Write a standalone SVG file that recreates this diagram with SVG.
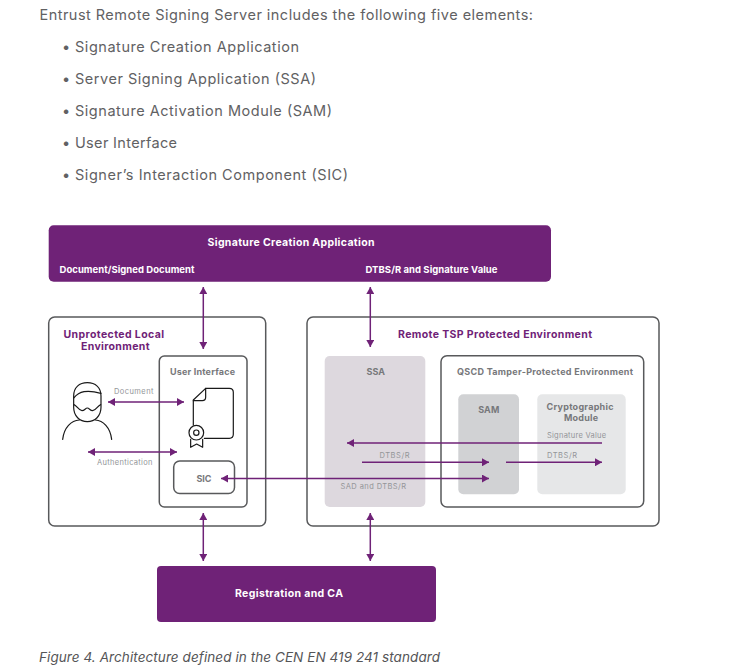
<svg xmlns="http://www.w3.org/2000/svg" width="732" height="669" viewBox="0 0 732 669">
<style>
text{font-family:"Inter","Liberation Sans",sans-serif}
.body{font-size:14.5px;fill:#616163}
.cap{font-size:13.5px;font-style:italic;fill:#555557}
.w{font-size:9.5px;font-weight:700;fill:#fff}
.p{font-size:10.5px;font-weight:700;fill:#6f2277}
.g{font-size:9px;font-weight:700;fill:#77787b}
.s{font-size:7.5px;fill:#939598}
.box{fill:#fff;stroke:#58595b;stroke-width:1.5}
.bar{fill:#6f2277}
.c{fill:none;stroke:#6f2277;stroke-width:1.5;marker-end:url(#a)}
.d{marker-start:url(#b)}
.i{fill:none;stroke:#1a1a1a;stroke-width:3.6;stroke-linejoin:round;stroke-linecap:round}
</style>
<defs>
<marker id="a" markerUnits="userSpaceOnUse" markerWidth="7" markerHeight="8" refX="7" refY="4" orient="auto"><path d="M0 0L7 4L0 8Z" fill="#6f2277"/></marker>
<marker id="b" markerUnits="userSpaceOnUse" markerWidth="7" markerHeight="8" refX="0" refY="4" orient="auto"><path d="M7 0L0 4L7 8Z" fill="#6f2277"/></marker>
</defs>
<rect width="732" height="669" fill="#fff"/>
<g id="intro">
<text class="body" x="39.500" y="20" textLength="493.500">Entrust Remote Signing Server includes the following five elements:</text>
<text class="body" x="62" y="52">•</text><text class="body" x="75" y="52" textLength="224">Signature Creation Application</text>
<text class="body" x="62" y="84">•</text><text class="body" x="75" y="84" textLength="241">Server Signing Application (SSA)</text>
<text class="body" x="62" y="116">•</text><text class="body" x="75" y="116" textLength="257">Signature Activation Module (SAM)</text>
<text class="body" x="62" y="148">•</text><text class="body" x="75" y="148" textLength="102">User Interface</text>
<text class="body" x="62" y="180">•</text><text class="body" x="75" y="180" textLength="273">Signer’s Interaction Component (SIC)</text>
</g>
<g id="sca">
<rect class="bar" x="48.700" y="225.300" width="502.300" height="56.400" rx="5"/>
<text class="w" x="207.500" y="246" style="font-size:10.500px" textLength="167">Signature Creation Application</text>
<text class="w" x="59.500" y="273" textLength="135">Document/Signed Document</text>
<text class="w" x="365.500" y="273" textLength="132">DTBS/R and Signature Value</text>
</g>
<g id="local-env">
<rect class="box" x="48.700" y="317" width="217" height="209" rx="6"/>
<text class="p" x="63.500" y="338" textLength="100.500">Unprotected Local</text>
<text class="p" x="81" y="350" textLength="68.500">Environment</text>
</g>
<g id="ui">
<rect class="box" x="159.300" y="356" width="87.700" height="151" rx="5"/>
<text class="g" x="170" y="375" textLength="65">User Interface</text>
</g>
<g id="sic">
<rect class="box" x="173.700" y="461" width="60.800" height="32.500" rx="6"/>
<text class="g" x="196.500" y="481.500" textLength="15">SIC</text>
</g>
<g id="signer" transform="translate(40 310) scale(.3333)">
<path class="i" d="M101 258C101 232 118 218 142 218C166 218 183 232 183 258V292C183 318 165 335 142 335C119 335 101 318 101 292Z"/>
<path class="i" d="M101 264C118 244 140 238 183 250"/>
<path class="i" d="M102 284C112 288 116 302 126 302C134 302 136 294 142 294C148 294 150 302 158 302C168 302 172 288 182 284"/>
<path class="i" d="M68 388C72 352 94 331 118 330M215 388C211 352 189 331 166 330"/>
</g>
<g id="document-icon" transform="translate(40 310) scale(.3333)">
<path class="i" d="M460 345V270L497 235H568Q580 235 580 247V373Q580 385 568 385H493"/>
<path class="i" d="M460 272H487Q497 272 497 262V235"/>
<circle class="i" cx="469" cy="368" r="22"/>
<circle class="i" cx="469" cy="368" r="8"/>
<path class="i" d="M452 388V412L470 402L488 412V388"/>
</g>
<g id="remote-env">
<rect class="box" x="307" y="317" width="352" height="209" rx="6"/>
<text class="p" x="398" y="338" textLength="194">Remote TSP Protected Environment</text>
</g>
<g id="ssa">
<rect x="324.700" y="356" width="100.600" height="151" rx="5" fill="#ddd8de"/>
<text class="g" x="366.500" y="375" textLength="18.500">SSA</text>
</g>
<g id="qscd">
<rect class="box" x="441" y="355.700" width="202.700" height="151.300" rx="6"/>
<text class="g" x="457" y="375" textLength="176">QSCD Tamper-Protected Environment</text>
</g>
<g id="sam">
<rect x="458.300" y="394.300" width="60.700" height="100" rx="5" fill="#d1d2d4"/>
<text class="g" x="478.300" y="413" textLength="21">SAM</text>
</g>
<g id="crypto">
<rect x="537.300" y="394.300" width="88.400" height="100" rx="5" fill="#e6e7e8"/>
<text class="g" x="546.500" y="410" textLength="67">Cryptographic</text>
<text class="g" x="564" y="421" textLength="34">Module</text>
</g>
<g id="registration">
<rect class="bar" x="157" y="566" width="279" height="56" rx="4"/>
<text class="w" x="235" y="597" style="font-size:10.500px" textLength="108">Registration and CA</text>
</g>
<g id="connectors">
<path class="c d" d="M203.300 287V349"/>
<path class="c d" d="M370.300 287V347"/>
<path class="c d" d="M203.300 513V561"/>
<path class="c d" d="M370.300 513V561"/>
<path class="c d" d="M108 402H184"/>
<path class="c d" d="M88 452H177"/>
<path class="c d" d="M221 478.500H489"/>
<path class="c" d="M602 443H347"/>
<path class="c" d="M362 462.300H489"/>
<path class="c" d="M506 462.300H602"/>
</g>
<g id="labels">
<text class="s" x="114" y="394" textLength="39.500">Document</text>
<text class="s" x="97" y="465" textLength="55.500">Authentication</text>
<text class="s" x="547" y="438" textLength="59">Signature Value</text>
<text class="s" x="379.500" y="458" textLength="30">DTBS/R</text>
<text class="s" x="547" y="458" textLength="30">DTBS/R</text>
<text class="s" x="340.500" y="489" textLength="65.500">SAD and DTBS/R</text>
</g>
<text class="cap" x="39" y="662" textLength="401">Figure 4. Architecture defined in the CEN EN 419 241 standard</text>
</svg>
